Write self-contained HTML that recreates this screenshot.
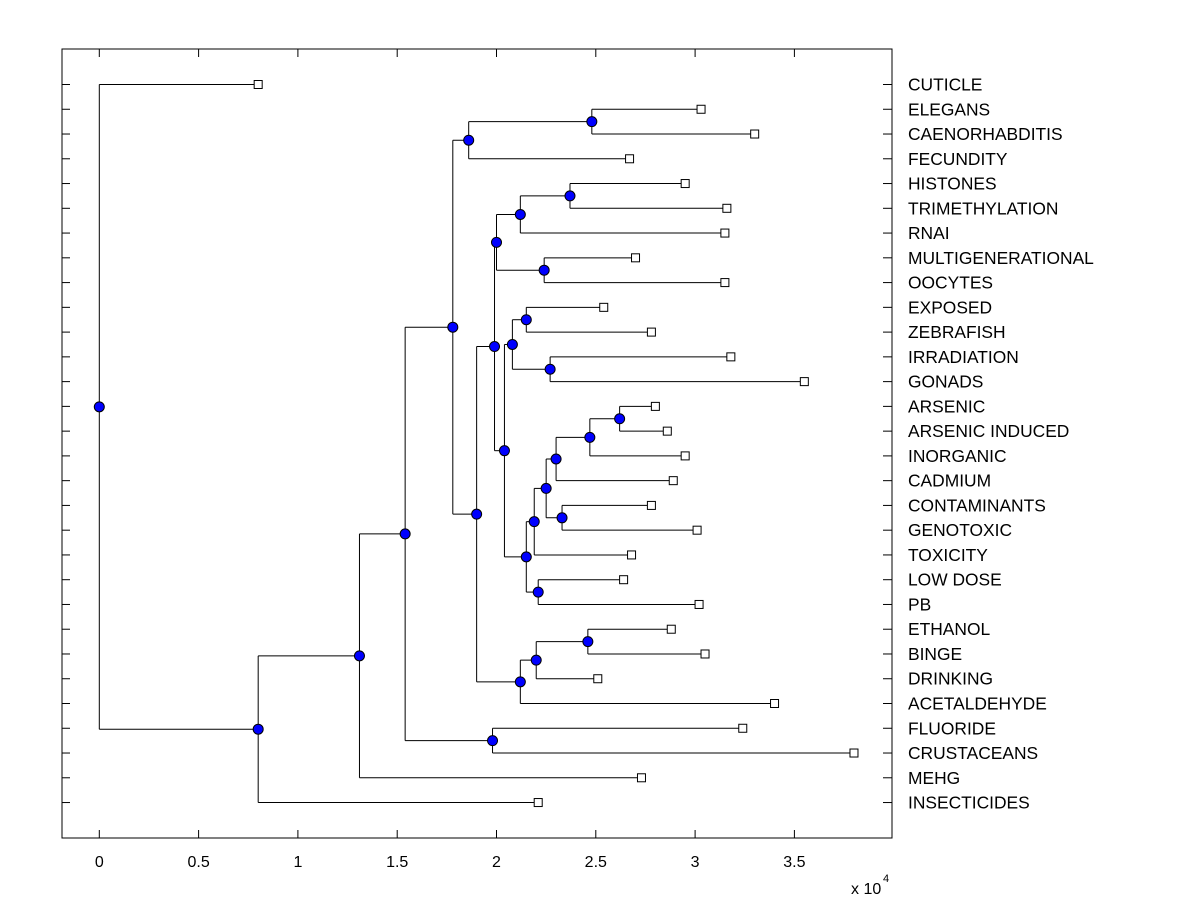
<!DOCTYPE html>
<html><head><meta charset="utf-8"><style>
html,body{margin:0;padding:0;background:#fff;}
svg{display:block;font-family:"Liberation Sans",Arial,sans-serif;}
</style></head><body>
<svg id="chart" width="1200" height="900" viewBox="0 0 1200 900">
<rect x="0" y="0" width="1200" height="900" fill="#fff"/>
<g id="plot"></g>
</svg>
<script>
const leafNames = ["CUTICLE","ELEGANS","CAENORHABDITIS","FECUNDITY","HISTONES","TRIMETHYLATION","RNAI","MULTIGENERATIONAL","OOCYTES","EXPOSED","ZEBRAFISH","IRRADIATION","GONADS","ARSENIC","ARSENIC INDUCED","INORGANIC","CADMIUM","CONTAMINANTS","GENOTOXIC","TOXICITY","LOW DOSE","PB","ETHANOL","BINGE","DRINKING","ACETALDEHYDE","FLUORIDE","CRUSTACEANS","MEHG","INSECTICIDES"];
const leafHeights = [0.80,3.03,3.30,2.67,2.95,3.16,3.15,2.70,3.15,2.54,2.78,3.18,3.55,2.80,2.86,2.95,2.89,2.78,3.01,2.68,2.64,3.02,2.88,3.05,2.51,3.40,3.24,3.80,2.73,2.21];
// internal node k has id 30+k; children ids: 0-29 leaves, 30+ internal nodes
const nodeHeights = [0.00,0.80,1.31,1.54,1.98,1.78,1.86,2.48,1.90,1.99,2.00,2.12,2.37,2.24,2.04,2.08,2.15,2.27,2.15,2.19,2.25,2.30,2.47,2.62,2.33,2.21,2.12,2.20,2.46];
const nodeChildren = [
 [0,31],[32,29],[33,28],[35,34],[26,27],[36,38],[37,3],[1,2],[39,56],
 [40,44],[41,43],[42,6],[4,5],[7,8],[45,48],[46,47],[9,10],[11,12],
 [49,55],[50,19],[51,54],[52,16],[53,15],[13,14],[17,18],[20,21],[57,25],[58,24],[22,23]
];
const xTicks = [0,0.5,1,1.5,2,2.5,3,3.5];
const xTickLabels = ["0","0.5","1","1.5","2","2.5","3","3.5"];

const L=62,R=892,T=49,B=838;
const xs=v=>99.3+v*198.6;
const ys=i=>84.5+i*24.76;
const NS="http://www.w3.org/2000/svg";
const g=document.getElementById('plot');
function mk(tag,attrs,parent){const e=document.createElementNS(NS,tag);for(const k in attrs)e.setAttribute(k,attrs[k]);(parent||g).appendChild(e);return e;}

const box=mk('rect',{x:L,y:T,width:R-L,height:B-T,fill:'none',stroke:'#000','stroke-width':1});



xTicks.forEach((t,i)=>{
  const x=xs(t);
  const a=mk('line',{x1:x,x2:x,y1:B,y2:B-8,stroke:'#000'});
  
  
  const b=mk('line',{x1:x,x2:x,y1:T,y2:T+8,stroke:'#000'});
  
  
  const tx=mk('text',{x:x,y:867,'font-size':16,'text-anchor':'middle'});
  tx.textContent=xTickLabels[i];
  
  
});
const ex=mk('text',{x:851,y:894,'font-size':16});
ex.textContent='x 10';


const ex2=mk('text',{x:883,y:882,'font-size':11});
ex2.textContent='4';



leafNames.forEach((n,i)=>{
  const y=ys(i);
  const a=mk('line',{x1:L,x2:L+8,y1:y,y2:y,stroke:'#000'});
  
  
  const b=mk('line',{x1:R-9,x2:R,y1:y,y2:y,stroke:'#000'});
  
  
  const t=mk('text',{x:908,y:y+6,'font-size':17.4});
  t.textContent=n;
  
  
});

const pos={};
function place(id){
  if(pos[id])return pos[id];
  if(id<30){pos[id]={x:xs(leafHeights[id]),y:ys(id)};return pos[id];}
  const k=id-30;const ch=nodeChildren[k].map(place);
  pos[id]={x:xs(nodeHeights[k]),y:ch.reduce((s,c)=>s+c.y,0)/ch.length};
  return pos[id];
}
place(30);
const lines=mk('g',{});
const marks=mk('g',{});
for(let k=0;k<nodeChildren.length;k++){
  const id=30+k;if(!pos[id])continue;
  const p=pos[id];
  const ch=nodeChildren[k].map(c=>pos[c]);
  const ymin=Math.min(...ch.map(c=>c.y)),ymax=Math.max(...ch.map(c=>c.y));
  const v=mk('line',{x1:p.x,x2:p.x,y1:ymin,y2:ymax,stroke:'#000'},lines);
  
  
  ch.forEach(c=>{
    const h=mk('line',{x1:p.x,x2:c.x,y1:c.y,y2:c.y,stroke:'#000'},lines);
    
    
  });
  const c=mk('circle',{cx:p.x,cy:p.y,r:5,fill:'#0000ff',stroke:'#000','stroke-width':1},marks);
  
  
}
for(let i=0;i<30;i++){
  const p=pos[i];
  if(!p)continue;
  const s=mk('rect',{x:p.x-4,y:p.y-4,width:8,height:8,fill:'#fff',stroke:'#000'},marks);
  
  
}
</script>
</body></html>
